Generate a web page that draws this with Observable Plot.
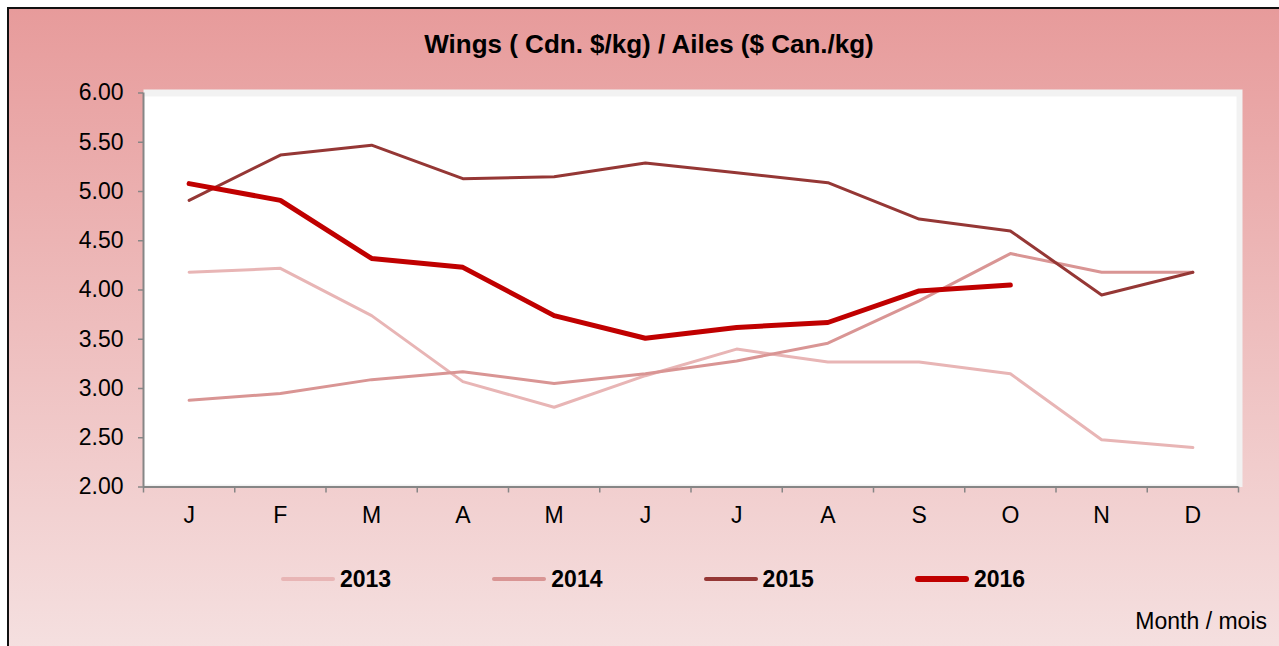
<!DOCTYPE html>
<html>
<head>
<meta charset="utf-8">
<script src="https://cdn.jsdelivr.net/npm/d3@7"></script>
<script src="https://cdn.jsdelivr.net/npm/@observablehq/plot@0.6"></script>
<style>
  html, body { margin: 0; padding: 0; background: #fff; }
  body { width: 1279px; height: 646px; position: relative; overflow: hidden; font-family: "Liberation Sans", Arial, sans-serif; }
  #bg { position: absolute; left: 7px; top: 7px; width: 1290px; height: 660px; border-top: 2px solid #111; border-left: 2px solid #111;
        background: linear-gradient(to bottom, #E79B9B 0px, #F5E0E0 640px); }
  #title { position: absolute; left: 0; top: 31px; width: 1298px; text-align: center; font-weight: bold; font-size: 26px; line-height: 26px; color: #000; }
  #chart { position: absolute; left: 0; top: 0; }
  .leg { position: absolute; top: 566px; height: 26px; display: flex; align-items: center; }
  .leg .sw { width: 54px; border-radius: 3px; }
  .leg .lb { margin-left: 5px; font-weight: bold; font-size: 23px; line-height: 26px; color: #000; }
  #caption { position: absolute; right: 12px; top: 608px; font-size: 23px; line-height: 26px; color: #000; }
</style>
</head>
<body>
<div id="bg"></div>
<div id="title">Wings ( Cdn. $/kg) / Ailes ($ Can./kg)</div>
<div id="chart"></div>
<div id="legend"></div>
<div id="caption">Month / mois</div>
<script>
const months = ["J","F","M","A","M","J","J","A","S","O","N","D"];
const years = ["2013","2014","2015","2016"];
const v2013 = [4.18, 4.22, 3.74, 3.07, 2.81, 3.13, 3.40, 3.27, 3.27, 3.15, 2.48, 2.40];
const v2014 = [2.88, 2.95, 3.09, 3.17, 3.05, 3.15, 3.28, 3.46, 3.89, 4.37, 4.18, 4.18];
const v2015 = [4.91, 5.37, 5.47, 5.13, 5.15, 5.29, 5.19, 5.09, 4.72, 4.60, 3.95, 4.18];
const v2016 = [5.08, 4.91, 4.32, 4.23, 3.74, 3.51, 3.62, 3.67, 3.99, 4.05];
const yTicks = [2.0, 2.5, 3.0, 3.5, 4.0, 4.5, 5.0, 5.5, 6.0];
const colors = ["#E8B5B5", "#D99594", "#953735", "#C00000"];
const widths = [3, 3, 3, 5];

const seriesValues = [v2013, v2014, v2015, v2016];
const series = years.map((yr, k) => seriesValues[k].map((v, i) => ({year: yr, i, value: v})));

const axisGrey = "#868686";
const chart = Plot.plot({
  width: 1279,
  height: 530,
  marginTop: 92.5,
  marginBottom: 43.5,
  marginLeft: 143,
  marginRight: 41,
  style: { background: "transparent", fontFamily: "'Liberation Sans', Arial, sans-serif", fontSize: "23px", color: "#000" },
  x: { type: "linear", domain: [-0.5, 11.5] },
  y: { domain: [2, 6] },
  marks: [
    Plot.frame({ fill: "#f2f2f2", stroke: null, insetTop: -3.5, insetRight: -4 }),
    Plot.frame({ fill: "#ffffff", stroke: null, insetTop: 3.5, insetRight: 2, insetBottom: 2.5 }),
    ...series.map((data, k) => Plot.line(data, {
      x: "i", y: "value", stroke: colors[k], strokeWidth: widths[k],
      strokeLinejoin: "round", strokeLinecap: "round"
    })),
    Plot.ruleX([-0.5], { stroke: axisGrey, strokeWidth: 2 }),
    Plot.ruleY([2], { stroke: axisGrey, strokeWidth: 2 }),
    Plot.axisY({ ticks: yTicks, tickSize: 5, tickPadding: 15, tickFormat: d => d.toFixed(2), stroke: axisGrey, strokeWidth: 1.5, fontSize: 23, label: null }),
    Plot.axisX({ ticks: d3.range(-0.5, 12, 1), tickSize: 6, tickFormat: () => "", stroke: axisGrey, strokeWidth: 1.5, label: null }),
    Plot.axisX({ ticks: d3.range(0, 12), tickSize: 0, tickPadding: 20, tickFormat: i => months[i], fontSize: 23, label: null })
  ]
});
document.getElementById("chart").appendChild(chart);

const legend = document.getElementById("legend");
years.forEach((yr, k) => {
  const item = document.createElement("div");
  item.className = "leg";
  item.style.left = (281 + k * 211.3) + "px";
  const sw = document.createElement("div");
  sw.className = "sw";
  sw.style.height = (widths[k] + 1) + "px";
  sw.style.background = colors[k];
  const lb = document.createElement("div");
  lb.className = "lb";
  lb.textContent = yr;
  item.appendChild(sw);
  item.appendChild(lb);
  legend.appendChild(item);
});
</script>
</body>
</html>
